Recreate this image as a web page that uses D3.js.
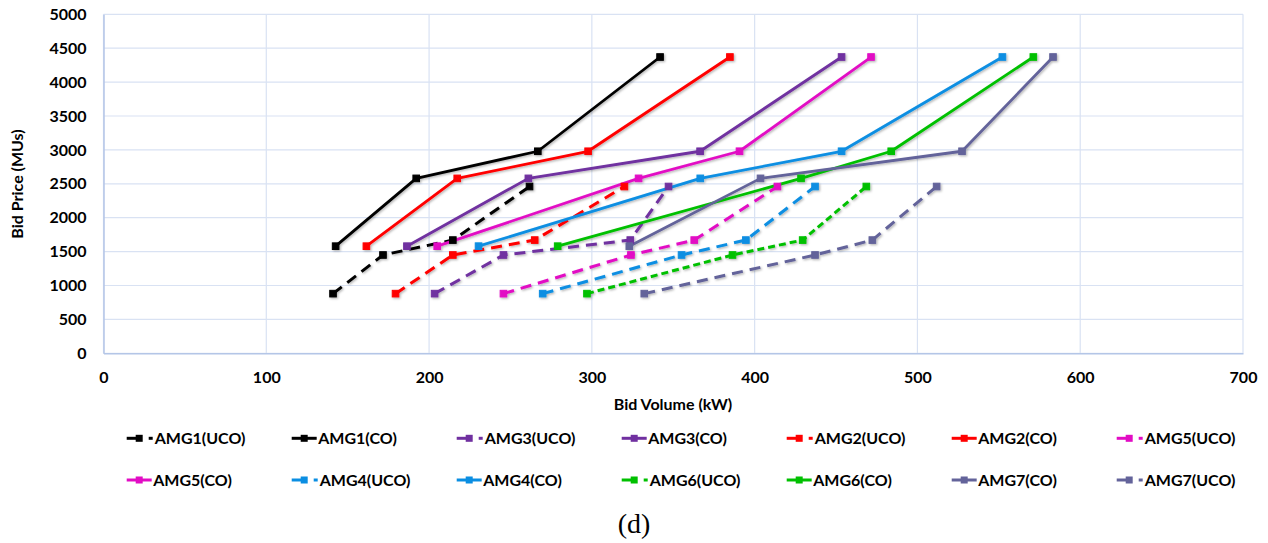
<!DOCTYPE html>
<html>
<head>
<meta charset="utf-8">
<script src="https://cdn.jsdelivr.net/npm/d3@7"></script>
<style>
  html, body { margin: 0; padding: 0; background: #fff; }
  svg { display: block; }
  text.lbl { font-family: Lato, "Open Sans", sans-serif; font-weight: 700; fill: #000; }
</style>
</head>
<body>
<svg id="chart" width="1268" height="543"></svg>
<script>
// ---------- data ----------
const xTicks = [0, 100, 200, 300, 400, 500, 600, 700];
const yTicks = [0, 500, 1000, 1500, 2000, 2500, 3000, 3500, 4000, 4500, 5000];

// bid price steps
const priceCO  = [1580, 2580, 2980, 4370];
const priceUCO = [880, 1450, 1670, 2460];

// bid volumes (kW) per series
const amg1UCO = [141.0, 171.7, 214.6, 261.7];
const amg1CO  = [142.6, 192.1, 266.8, 341.9];
const amg3UCO = [203.4, 245.7, 323.6, 347.1];
const amg3CO  = [186.4, 261.0, 366.5, 453.4];
const amg2UCO = [179.4, 214.6, 264.9, 320.0];
const amg2CO  = [161.5, 217.3, 297.7, 384.8];
const amg5UCO = [245.7, 324.0, 362.9, 414.0];
const amg5CO  = [205.0, 328.7, 390.7, 471.5];
const amg4UCO = [269.8, 355.1, 394.6, 437.1];
const amg4CO  = [230.4, 366.6, 453.4, 552.2];
const amg6UCO = [297.0, 386.4, 429.5, 468.6];
const amg6CO  = [279.0, 428.5, 483.9, 571.2];
const amg7CO  = [323.0, 403.6, 527.4, 583.3];
const amg7UCO = [332.2, 437.1, 472.3, 511.8];

const seriesNames = [
  "AMG1(UCO)", "AMG1(CO)", "AMG3(UCO)", "AMG3(CO)", "AMG2(UCO)", "AMG2(CO)", "AMG5(UCO)",
  "AMG5(CO)", "AMG4(UCO)", "AMG4(CO)", "AMG6(UCO)", "AMG6(CO)", "AMG7(CO)", "AMG7(UCO)"
];
const seriesVolumes = [
  amg1UCO, amg1CO, amg3UCO, amg3CO, amg2UCO, amg2CO, amg5UCO,
  amg5CO, amg4UCO, amg4CO, amg6UCO, amg6CO, amg7CO, amg7UCO
];

// ---------- styles ----------
const colorOf = {
  AMG1: "#000000", AMG2: "#ff0000", AMG3: "#7030a0", AMG4: "#0a8ee2",
  AMG5: "#e20cc4", AMG6: "#00c000", AMG7: "#63639a"
};

const series = seriesNames.map((name, i) => {
  const uco = name.includes("UCO");
  const grp = name.slice(0, 4);
  const prices = uco ? priceUCO : priceCO;
  return {
    name, uco, color: colorOf[grp],
    dash: uco ? (grp === "AMG6" ? "7,4" : "11,7") : null,
    points: seriesVolumes[i].map((v, k) => ({ x: v, y: prices[k] }))
  };
});

// ---------- layout ----------
const FS = 16;
const svg = d3.select("#chart");
const x = d3.scaleLinear().domain([0, 700]).range([103.5, 1243]);
const y = d3.scaleLinear().domain([0, 5000]).range([353.3, 14.3]);

const defs = svg.append("defs");
const f = defs.append("filter").attr("id", "shadow")
  .attr("x", "-10%").attr("y", "-10%").attr("width", "130%").attr("height", "130%");
f.append("feDropShadow").attr("dx", 1.2).attr("dy", 1.2)
  .attr("stdDeviation", 1).attr("flood-color", "#000").attr("flood-opacity", 0.3);

// gridlines
const grid = svg.append("g");
grid.selectAll("line.h").data(yTicks).join("line")
  .attr("x1", x(0)).attr("x2", x(700))
  .attr("y1", d => y(d)).attr("y2", d => y(d))
  .attr("stroke", "#d9e2f3").attr("stroke-width", 1.2);
grid.selectAll("line.v").data(xTicks).join("line")
  .attr("x1", d => x(d)).attr("x2", d => x(d))
  .attr("y1", y(0)).attr("y2", y(5000))
  .attr("stroke", "#d9e2f3").attr("stroke-width", 1.2);

// axes (light blue lines, bold labels)
const xAxis = svg.append("g").attr("transform", `translate(0,${y(0)})`)
  .call(d3.axisBottom(x).tickValues(xTicks).tickSize(0).tickPadding(18).tickFormat(d3.format("d")));
const yAxis = svg.append("g").attr("transform", `translate(${x(0)},0)`)
  .call(d3.axisLeft(y).tickValues(yTicks).tickSize(0).tickPadding(17).tickFormat(d3.format("d")));
[xAxis, yAxis].forEach(a => {
  a.select(".domain").attr("stroke", "#b4c6e7").attr("stroke-width", 1.5);
  a.selectAll("text").attr("class", "lbl").style("font-size", FS + "px");
});

// axis titles
svg.append("text").attr("class", "lbl").attr("x", 673).attr("y", 410).attr("text-anchor", "middle")
  .style("font-size", FS + "px").text("Bid Volume (kW)");
svg.append("text").attr("class", "lbl").attr("transform", `translate(23,184) rotate(-90)`).attr("text-anchor", "middle")
  .style("font-size", FS + "px").text("Bid Price (MUs)");

// lines
const line = d3.line().x(d => x(d.x)).y(d => y(d.y));
const plot = svg.append("g").attr("filter", "url(#shadow)");
series.forEach(s => {
  plot.append("path").datum(s.points)
    .attr("d", line)
    .attr("fill", "none")
    .attr("stroke", s.color)
    .attr("stroke-width", s.uco ? 3 : 2.8)
    .attr("stroke-dasharray", s.dash)
    .attr("stroke-linejoin", "round");
});
series.forEach(s => {
  plot.selectAll(null).data(s.points).join("rect")
    .attr("x", d => x(d.x) - 3.3).attr("y", d => y(d.y) - 3.3)
    .attr("width", 6.6).attr("height", 6.6)
    .attr("fill", s.color)
    .attr("stroke", s.color).attr("stroke-width", 1);
});

// legend
const legend = svg.append("g");
const colW = 165, rowH = 41.7, lx0 = 126.7, ly0 = 438.3;
series.forEach((s, i) => {
  const c = i % 7, r = Math.floor(i / 7);
  const gx = lx0 + c * colW, gy = ly0 + r * rowH;
  const g = legend.append("g").attr("transform", `translate(${gx},${gy})`);
  if (s.uco) {
    g.append("line").attr("x1", 0).attr("x2", 15).attr("y1", 0).attr("y2", 0)
      .attr("stroke", s.color).attr("stroke-width", 3);
    g.append("line").attr("x1", 22).attr("x2", 26).attr("y1", 0).attr("y2", 0)
      .attr("stroke", s.color).attr("stroke-width", 3);
    g.append("rect").attr("x", 9).attr("y", -3.5).attr("width", 7).attr("height", 7)
      .attr("fill", s.color);
    g.append("text").attr("class", "lbl").attr("x", 28).attr("y", 5.8).style("font-size", FS + "px").text(s.name);
  } else {
    g.append("line").attr("x1", 0).attr("x2", 25).attr("y1", 0).attr("y2", 0)
      .attr("stroke", s.color).attr("stroke-width", 3);
    g.append("rect").attr("x", 9).attr("y", -3.5).attr("width", 7).attr("height", 7)
      .attr("fill", s.color);
    g.append("text").attr("class", "lbl").attr("x", 26.5).attr("y", 5.8).style("font-size", FS + "px").text(s.name);
  }
});

// caption
svg.append("text").attr("x", 634).attr("y", 533).attr("text-anchor", "middle")
  .style("font-family", "'Liberation Serif', 'Times New Roman', serif")
  .style("font-weight", "400").style("font-size", "28px").style("fill", "#000").text("(d)");
</script>
</body>
</html>
